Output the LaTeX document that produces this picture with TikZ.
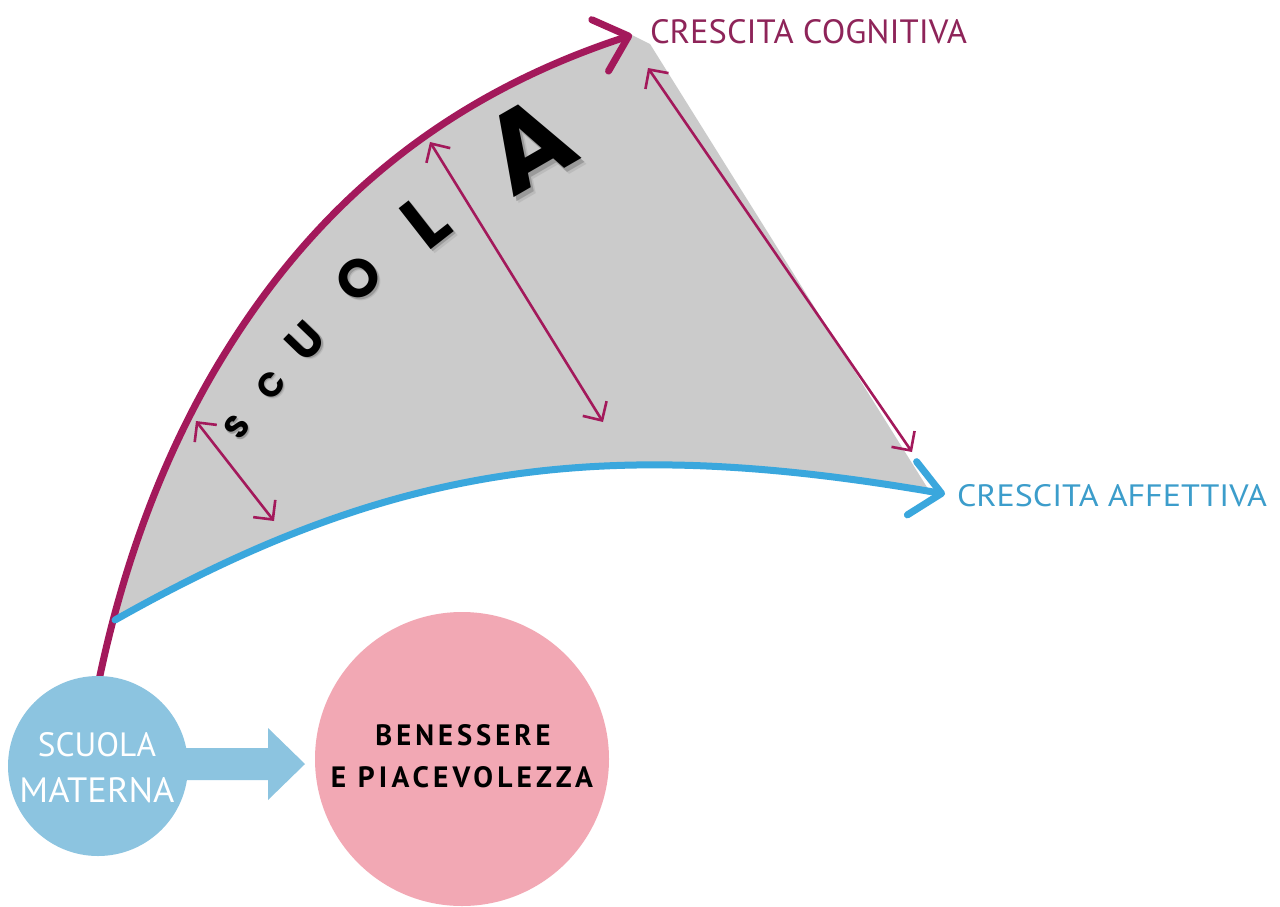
\documentclass[tikz,border=0pt]{standalone}
\usepackage{fontspec}
\usepackage{graphicx}
\setmainfont{PT Sans}
\newfontfamily\popfont{Poppins}
\newfontfamily\benfont[LetterSpace=14]{PT Sans}
\usetikzlibrary{arrows.meta}
\definecolor{mag}{HTML}{A3195B}
\definecolor{magtxt}{HTML}{8E2459}
\definecolor{blu}{HTML}{3AA7DD}
\definecolor{blutxt}{HTML}{3C9DCB}
\definecolor{lblue}{HTML}{8CC4E0}
\definecolor{pinkc}{HTML}{F2A8B4}
\definecolor{grayfill}{HTML}{CBCBCB}
\definecolor{shA}{HTML}{BBBBBB}
\definecolor{shB}{HTML}{9A9A9A}
\newcommand\shlayer[3]{\pgfmathsetmacro\shdx{#2*\shcx}\pgfmathsetmacro\shdy{#2*\shcy}\rlap{\kern\shdx em\raisebox{\shdy em}{\color{#3}#1}}}
\newcommand\shadowed[2]{\pgfmathsetmacro\shcx{cos(-45-#2)}\pgfmathsetmacro\shcy{sin(-45-#2)}%
  \popfont\bfseries\shlayer{#1}{0.075}{shA}\shlayer{#1}{0.045}{shB}#1}
\tikzset{
  maincurve/.style={line width=7pt, line cap=round, line join=round},
  bigtip/.style={-{Straight Barb[length=30pt,width=54pt,line cap=round,line join=round]}},
  thinarrow/.style={mag, line width=2.6pt,
    {Straight Barb[length=14pt,width=28pt]}-{Straight Barb[length=14pt,width=28pt]}},
  lbl/.style={inner sep=0pt, outer sep=0pt},
  letter/.style={inner sep=0pt, text=black},
}
\begin{document}
\begin{tikzpicture}[x=1pt,y=-1pt]
\useasboundingbox[fill=white] (0,0) rectangle (1280,906);

% gray region
\fill[grayfill] (113,618) .. controls (118,585) and (150,500) .. (180,440)
  .. controls (200,400) and (210,375) .. (227,350)
  .. controls (317,205.5) and (442,97) .. (632,35)
  -- (650,44) -- (930,492)
  -- (945,494) .. controls (602,434.5) and (393,463) .. (115,620) -- cycle;

% named ends
\coordinate (magstart) at (97,690);
\coordinate (magmid) at (227,350);
\coordinate (cogtip) at (632,35);
\coordinate (blustart) at (115,620);
\coordinate (afftip) at (945,494);
\coordinate (a1s) at (196,421);
\coordinate (a1e) at (274,521);
\coordinate (a2s) at (430,142);
\coordinate (a2e) at (603,422);
\coordinate (a3s) at (648,68);
\coordinate (a3e) at (912,452);

% main curves
\draw[maincurve, mag, bigtip] (magstart) .. controls (121,570) and (163,452) .. (magmid)
   .. controls (317,205.5) and (442,97) .. (cogtip);
\draw[maincurve, blu, bigtip] (blustart) .. controls (393,463) and (602,434.5) .. (afftip);

% double arrows
\draw[thinarrow] (a1s) -- (a1e);
\draw[thinarrow] (a2s) -- (a2e);
\draw[thinarrow] (a3s) -- (a3e);

% SCUOLA letters with soft shadow
\foreach \l/\x/\y/\a/\h in {S/238/428/55/23, C/272/386/52/24, U/307/342/46/33, O/360/280/42/38, L/427/223/38/52, A/530/148/30/78}{
  \node[letter, rotate=\a] (let\l) at (\x,\y) {\resizebox{!}{\h pt}{\shadowed{\l}{\a}}};
}

% labels
\node[lbl, anchor=west, text=magtxt] (cog) at (650,32) {\resizebox{317pt}{24pt}{CRESCITA COGNITIVA}};
\node[lbl, anchor=west, text=blutxt] (aff) at (957,496) {\resizebox{310pt}{22pt}{CRESCITA AFFETTIVA}};

% bottom circles
\node[circle, fill=lblue, minimum size=180pt, inner sep=0pt] (sm) at (98,766) {};
\node[circle, fill=pinkc, minimum size=294pt, inner sep=0pt] (ben) at (462,759) {};
\coordinate (atip) at (305,764);
\fill[lblue] (150,748) -- (268,748) -- (268,728) -- (atip) -- (268,800) -- (268,780) -- (150,780) -- cycle;

\node[lbl, text=white] (sm1) at (97,745) {\resizebox{118pt}{24pt}{SCUOLA}};
\node[lbl, text=white] (sm2) at (97,790) {\resizebox{155pt}{25pt}{MATERNA}};
\node[lbl, text=black] (ben1) at (463,735) {\resizebox{175pt}{21pt}{\benfont\bfseries BENESSERE}};
\node[lbl, text=black] (ben2) at (462,777) {\resizebox{262pt}{21pt}{\benfont\bfseries E PIACEVOLEZZA}};
\end{tikzpicture}
\end{document}
